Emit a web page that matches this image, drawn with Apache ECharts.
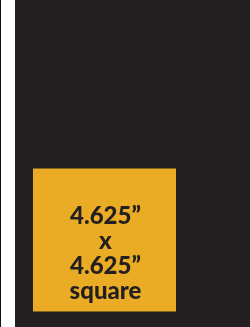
<!DOCTYPE html>
<html>
<head>
<meta charset="utf-8">
<script src="https://cdn.jsdelivr.net/npm/echarts@6/dist/echarts.min.js"></script>
<style>
  html, body { margin: 0; padding: 0; background: #fff; }
  #edge { position: absolute; left: 0; top: 0; width: 1px; height: 327px; background: #111; }
  #main { position: absolute; left: 0; top: 0; width: 250px; height: 327px; }
</style>
</head>
<body>
<div id="main"></div>
<div id="edge"></div>
<script>
  // panel size and square, all in inches
  var panelWidth = 7.6;
  var panelHeight = 10.576;
  var squareSize = 4.625;
  var squareLeft = 0.582;
  var squareBottom = 0.5;
  var labelLines = ['4.625\u201D', 'x', '4.625\u201D', 'square'];

  var myChart = echarts.init(document.getElementById('main'));
  var option = {
    backgroundColor: '#fff',
    animation: false,
    grid: {
      left: 15, right: 0, top: 0, bottom: 0,
      show: true,
      backgroundColor: '#231f20',
      borderWidth: 0
    },
    xAxis: { type: 'value', min: 0, max: panelWidth, show: false },
    yAxis: { type: 'value', min: 0, max: panelHeight, show: false },
    series: [{
      type: 'custom',
      data: [[squareLeft, squareBottom, squareSize]],
      renderItem: function (params, api) {
        var topLeft = api.coord([api.value(0), api.value(1) + api.value(2)]);
        var size = api.size([api.value(2), api.value(2)]);
        return {
          type: 'rect',
          shape: { x: topLeft[0], y: topLeft[1], width: size[0], height: size[1] },
          style: { fill: '#e9ac24' },
          textContent: {
            style: {
              text: labelLines.join('\n'),
              fill: '#231f20',
              fontFamily: 'Lato',
              fontWeight: 900,
              fontSize: 24,
              lineHeight: 25,
              align: 'center'
            }
          },
          textConfig: { position: 'inside', offset: [1, 14] }
        };
      }
    }]
  };
  myChart.setOption(option);
</script>
</body>
</html>
